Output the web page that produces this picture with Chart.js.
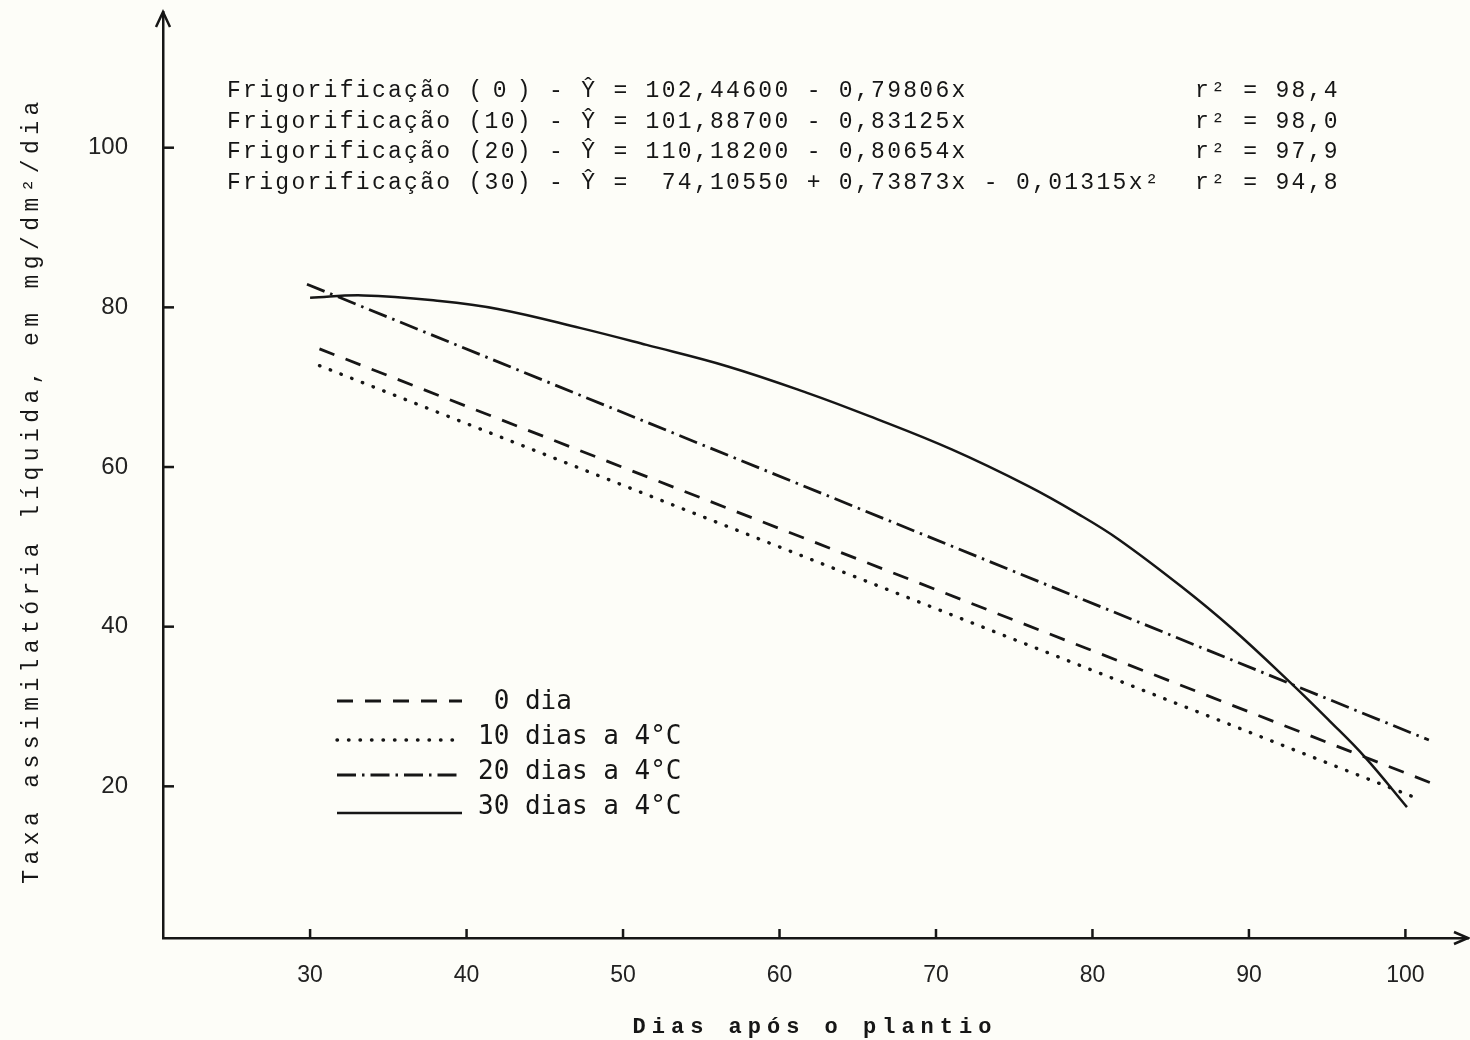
<!DOCTYPE html>
<html lang="pt">
<head>
<meta charset="utf-8">
<title>Taxa assimilatória líquida</title>
<script src="https://cdn.jsdelivr.net/npm/chart.js@4/dist/chart.umd.min.js"></script>
<style>
  html, body { margin: 0; padding: 0; background: #fdfdf8; }
  #grafico { display: block; }
</style>
</head>
<body>
<canvas id="grafico" width="1470" height="1040"></canvas>
<script>
// valores: dias após o plantio (x) e taxa em mg/dm2/dia (y)
const dias0 = [30.6, 101.8];
const taxa0 = [74.8, 20.3];
const dias10 = [30.6, 101.0];
const taxa10 = [72.7, 18.3];
const dias20 = [29.8, 101.5];
const taxa20 = [82.9, 25.8];
const dias30 = [30.0, 33.4, 38.3, 42.0, 47.3, 51.5, 56.7, 61.9, 65.7, 71.0, 75.9, 79.1, 81.7, 85.7, 88.9, 92.7, 95.1, 97.4, 100.1];
const taxa30 = [81.2, 81.5, 80.8, 79.8, 77.4, 75.3, 72.6, 69.2, 66.4, 62.2, 57.6, 54.1, 50.9, 45.0, 39.8, 32.9, 28.3, 23.7, 17.4];

const ticksX = [30, 40, 50, 60, 70, 80, 90, 100];
const ticksY = [20, 40, 60, 80, 100];

const legendas = ["0 dia", "10 dias a 4°C", "20 dias a 4°C", "30 dias a 4°C"];
const tratamentos = ["0", "10", "20", "30"];
const modelos = [
  "- Ŷ = 102,44600 - 0,79806x",
  "- Ŷ = 101,88700 - 0,83125x",
  "- Ŷ = 110,18200 - 0,80654x",
  "- Ŷ =  74,10550 + 0,73873x - 0,01315x²"
];
const coeficientes = ["r² = 98,4", "r² = 98,0", "r² = 97,9", "r² = 94,8"];

const tituloX = "Dias após o plantio";
const tituloY = "Taxa assimilatória líquida, em mg/dm²/dia";

const corTraco = "#161616";
const corFundo = "#fdfdf8";

function pontos(xs, ys) {
  return xs.map((x, i) => ({ x: x, y: ys[i] }));
}

function semMargens(scale) {
  scale.paddingTop = 0;
  scale.paddingBottom = 0;
  scale.paddingLeft = 0;
  scale.paddingRight = 0;
}

const extras = {
  id: "extras",
  beforeDraw(chart) {
    const ctx = chart.ctx;
    ctx.save();
    ctx.fillStyle = corFundo;
    ctx.fillRect(0, 0, chart.width, chart.height);
    ctx.restore();
  },
  afterDraw(chart) {
    const { ctx, chartArea: a, scales } = chart;
    ctx.save();
    ctx.strokeStyle = corTraco;
    ctx.fillStyle = corTraco;
    ctx.lineWidth = 2.5;

    // marcas dos eixos voltadas para dentro
    ticksX.forEach(v => {
      const px = scales.x.getPixelForValue(v);
      ctx.beginPath();
      ctx.moveTo(px, a.bottom);
      ctx.lineTo(px, a.bottom - 9);
      ctx.stroke();
    });
    ticksY.forEach(v => {
      const py = scales.y.getPixelForValue(v);
      ctx.beginPath();
      ctx.moveTo(a.left, py);
      ctx.lineTo(a.left + 11, py);
      ctx.stroke();
    });

    // setas
    ctx.beginPath();
    ctx.moveTo(a.left - 7, a.top + 15);
    ctx.lineTo(a.left, a.top);
    ctx.lineTo(a.left + 7, a.top + 15);
    ctx.stroke();
    ctx.beginPath();
    ctx.moveTo(a.right - 14, a.bottom - 6);
    ctx.lineTo(a.right, a.bottom);
    ctx.lineTo(a.right - 14, a.bottom + 6);
    ctx.stroke();

    // equações
    const col = 16.1;
    const x0 = 227;
    ctx.font = '23px "Liberation Mono", monospace';
    ctx.letterSpacing = "2.3px";
    ctx.textBaseline = "alphabetic";
    modelos.forEach((m, i) => {
      const base = 97 + i * 30.5;
      ctx.textAlign = "left";
      ctx.fillText("Frigorificação", x0, base);
      ctx.fillText("(", x0 + 15 * col, base);
      ctx.fillText(")", x0 + 18 * col, base);
      const t = tratamentos[i];
      ctx.fillText(t, x0 + 17 * col - t.length * col / 2, base);
      ctx.fillText(m, x0 + 20 * col, base);
      ctx.fillText(coeficientes[i], 1195, base);
    });

    // legenda
    ctx.letterSpacing = "0px";
    ctx.font = '26px "DejaVu Sans Mono", monospace';
    ctx.textBaseline = "middle";
    const linhasY = [701, 740, 775, 813];
    const textoY = [702, 737, 772, 807];
    chart.data.datasets.forEach((ds, i) => {
      ctx.save();
      ctx.lineWidth = ds.borderWidth;
      ctx.setLineDash(ds.borderDash || []);
      ctx.lineCap = ds.borderCapStyle || "butt";
      ctx.beginPath();
      ctx.moveTo(337, linhasY[i]);
      ctx.lineTo(462, linhasY[i]);
      ctx.stroke();
      ctx.restore();
      const num = ds.label.split(" ")[0];
      ctx.fillText(ds.label, 478 + (2 - num.length) * 15.65, textoY[i]);
    });

    // títulos dos eixos
    ctx.textAlign = "center";
    ctx.textBaseline = "alphabetic";
    ctx.font = 'bold 22px "Liberation Mono", monospace';
    ctx.letterSpacing = "6px";
    ctx.fillText(tituloX, 815, 1033);
    ctx.font = '23px "Liberation Mono", monospace';
    ctx.letterSpacing = "5.4px";
    ctx.translate(38, 490);
    ctx.rotate(-Math.PI / 2);
    ctx.fillText(tituloY, 0, 0);
    ctx.restore();
  }
};

const ctxGrafico = document.getElementById("grafico").getContext("2d");

new Chart(ctxGrafico, {
  type: "line",
  data: {
    datasets: [
      {
        label: legendas[0],
        data: pontos(dias0, taxa0),
        borderColor: corTraco,
        borderWidth: 2.8,
        borderDash: [16, 12]
      },
      {
        label: legendas[1],
        data: pontos(dias10, taxa10),
        borderColor: corTraco,
        borderWidth: 3.4,
        borderDash: [0.5, 11],
        borderCapStyle: "round"
      },
      {
        label: legendas[2],
        data: pontos(dias20, taxa20),
        borderColor: corTraco,
        borderWidth: 2.8,
        borderDash: [19, 6, 2.5, 6]
      },
      {
        label: legendas[3],
        data: pontos(dias30, taxa30),
        borderColor: corTraco,
        borderWidth: 2.5,
        tension: 0.4
      }
    ]
  },
  options: {
    responsive: false,
    devicePixelRatio: 1,
    animation: false,
    layout: { padding: { top: 12, right: 2, left: 0, bottom: 0 } },
    elements: { point: { radius: 0 } },
    plugins: {
      legend: { display: false },
      tooltip: { enabled: false },
      title: { display: false }
    },
    scales: {
      x: {
        type: "linear",
        min: 20.6,
        max: 104,
        afterFit: scale => { scale.height = 102; semMargens(scale); },
        afterBuildTicks: scale => { scale.ticks = ticksX.map(v => ({ value: v })); },
        grid: { display: false, drawTicks: false },
        border: { display: true, color: corTraco, width: 2.5 },
        ticks: {
          padding: 24,
          color: "#222",
          font: { family: '"Liberation Sans Narrow", "Liberation Sans", sans-serif', size: 23 },
          maxRotation: 0
        }
      },
      y: {
        type: "linear",
        min: 1,
        max: 117,
        afterFit: scale => { scale.width = 163; semMargens(scale); },
        afterBuildTicks: scale => { scale.ticks = ticksY.map(v => ({ value: v })); },
        grid: { display: false, drawTicks: false },
        border: { display: true, color: corTraco, width: 2.5 },
        ticks: {
          padding: 35,
          color: "#222",
          font: { family: '"Liberation Sans", sans-serif', size: 24 }
        }
      }
    }
  },
  plugins: [extras]
});
</script>
</body>
</html>
